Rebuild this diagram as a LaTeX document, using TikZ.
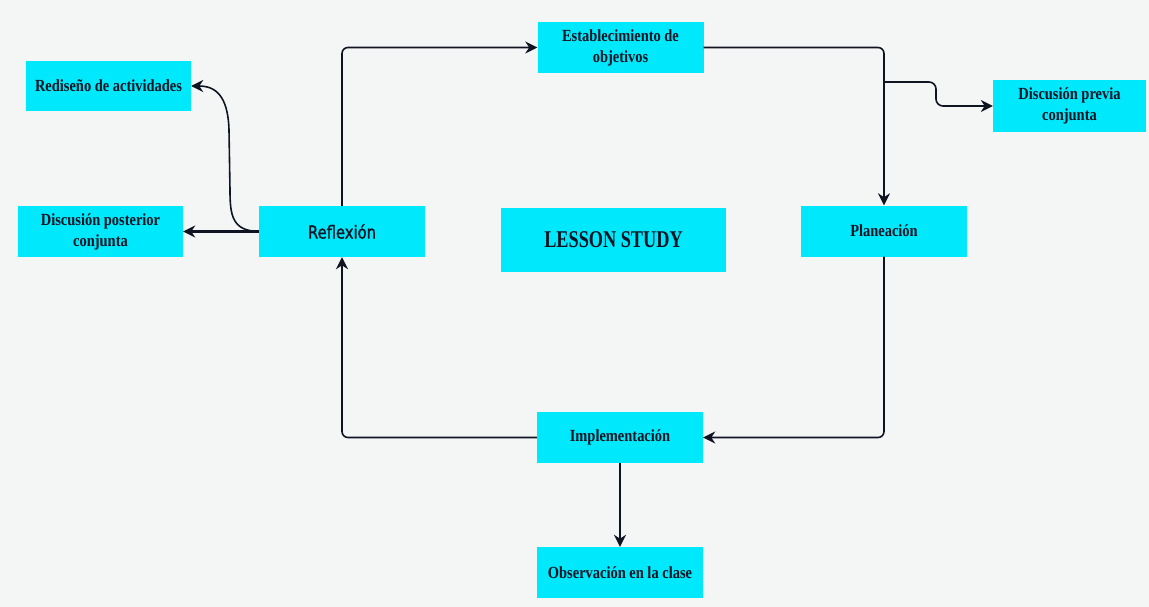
\documentclass[tikz,border=0pt]{standalone}
\usepackage{fontspec}
\usepackage{xcolor}
\usetikzlibrary{arrows.meta}
\newfontfamily\boxfont[FakeStretch=0.85]{Liberation Serif}
\newfontfamily\titlefont[FakeStretch=0.76]{Liberation Serif}
\newfontfamily\reflfont[FakeStretch=0.82,FakeBold=1.2]{DejaVu Sans}
\definecolor{studycyan}{RGB}{0,232,252}
\definecolor{paperbg}{RGB}{244,245,245}
\definecolor{inkdark}{RGB}{15,20,35}

\begin{document}
\begin{tikzpicture}[x=1pt, y=-1pt,
    stepbox/.style={fill=studycyan, text=inkdark, inner sep=0pt, align=center,
        minimum width=166pt, minimum height=51pt,
        font=\boxfont\bfseries\fontsize{17}{21}\selectfont},
    flow/.style={draw=inkdark, line width=1.6pt, -{Stealth[length=12pt,width=12pt]}}]
    % background
    \fill[paperbg] (0,0) rectangle (1149,607);

    % the cycle
    \node[stepbox] (estab) at (620.5,47.5) {Establecimiento de\\objetivos};
    \node[stepbox] (plan) at (884,231) {Planeaci\'on};
    \node[stepbox] (impl) at (620,437.5) {Implementaci\'on};
    \node[stepbox, font=\reflfont\fontsize{18}{21}\selectfont] (refl) at (342,231.5) {Reflexi\'on};
    \node[stepbox, minimum width=225pt, minimum height=64pt,
        font=\titlefont\bfseries\fontsize{24}{26}\selectfont] (lesson) at (613.5,240) {LESSON STUDY};

    % side boxes
    \node[stepbox, minimum width=153pt, minimum height=52pt] (dprev) at (1069.5,106) {Discusi\'on previa\\conjunta};
    \node[stepbox, minimum width=165pt, minimum height=50pt] (redis) at (108.5,86) {Redise\~no de actividades};
    \node[stepbox, minimum width=165pt] (dpost) at (100.5,231.5) {Discusi\'on posterior\\conjunta};
    \node[stepbox] (obs) at (620,572.5) {Observaci\'on en la clase};

    % connectors
    \draw[flow, rounded corners=6pt] (refl.north) |- (estab.west);
    \draw[flow, rounded corners=6pt] (estab.east) -| (plan.north);
    \draw[flow, rounded corners=6pt] (plan.south) |- (impl.east);
    \draw[flow, rounded corners=6pt] (impl.west) -| (refl.south);
    \draw[flow] (impl.south) -- (obs.north);
    \coordinate (split) at (plan.north |- 0,82);
    \draw[flow, rounded corners=7pt] (split) -- ++(52,0) |- (dprev.west);
    \draw[flow, line width=2.2pt] (refl.west) -- (dpost.east);
    \draw[flow] (refl.west) .. controls (232,231) and (230,215) .. (230,190)
        -- (229,130) .. controls (228,95) and (215,86) .. (redis.east);
\end{tikzpicture}
\end{document}
